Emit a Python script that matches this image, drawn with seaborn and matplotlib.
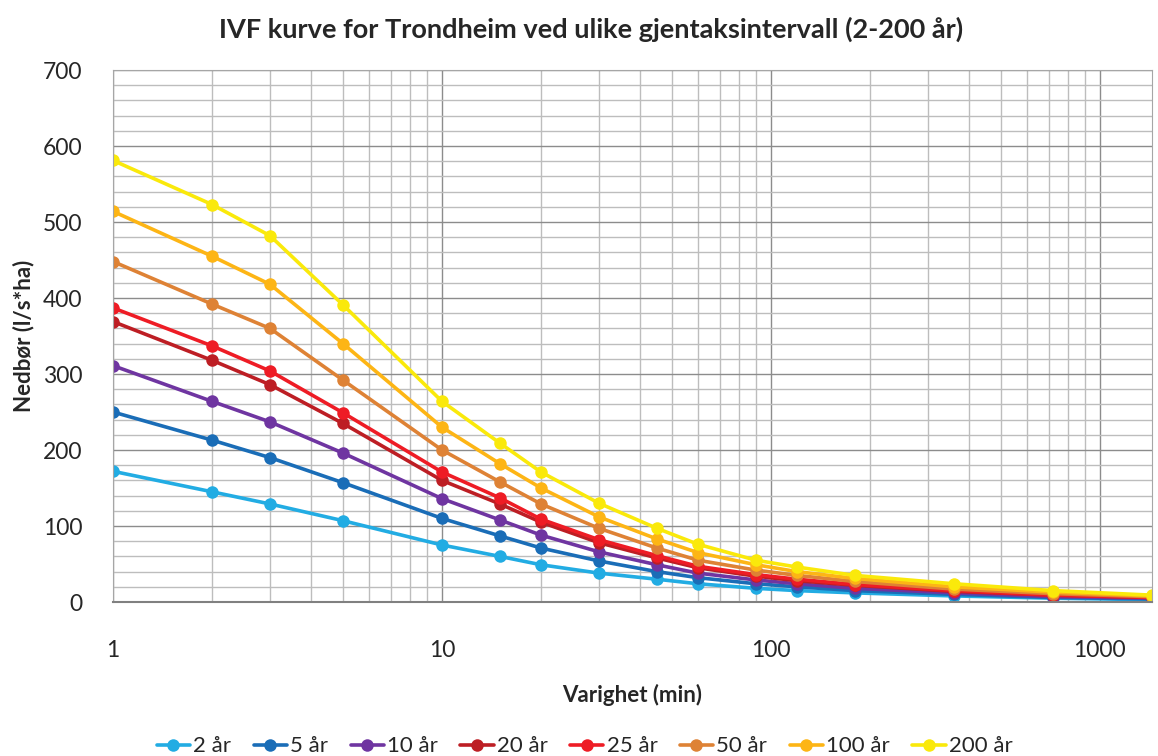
import numpy as np
import pandas as pd
import matplotlib
matplotlib.use("Agg")
import matplotlib.pyplot as plt
import matplotlib.ticker as mticker
import seaborn as sns

# varighet i minutter
durations = [1, 2, 3, 5, 10, 15, 20, 30, 45, 60, 90, 120, 180, 360, 720, 1440]

# nedbørintensitet (l/s*ha), lest av figuren
i_2 = [172, 145, 129, 107, 75, 60, 49, 38, 30, 24, 18, 15, 12, 8, 5, 3]
i_5 = [250, 213, 190, 157, 110, 87, 71, 54, 40, 32, 24, 20, 15, 10, 6, 4]
i_10 = [311, 264, 237, 196, 136, 108, 88, 66, 49, 38, 29, 24, 18, 12, 7, 5]
i_20 = [369, 318, 286, 235, 160, 129, 105, 78, 58, 45, 34, 28, 22, 14, 9, 6]
i_25 = [387, 337, 304, 249, 171, 137, 109, 82, 61, 47, 36, 30, 23, 15, 9, 6]
i_50 = [448, 392, 360, 292, 200, 158, 129, 97, 71, 55, 42, 35, 27, 17, 11, 7]
i_100 = [514, 455, 418, 340, 230, 182, 150, 112, 83, 65, 49, 40, 31, 20, 13, 8]
i_200 = [581, 523, 482, 391, 264, 209, 171, 130, 97, 76, 55, 46, 35, 24, 15, 9]

series_names = ["2 år", "5 år", "10 år", "20 år", "25 år", "50 år", "100 år", "200 år"]
series_vals = [i_2, i_5, i_10, i_20, i_25, i_50, i_100, i_200]
colors = ["#22ACE3", "#1A6DB7", "#6F35A1", "#BD1E24", "#EE1C25", "#DE8235", "#FDB515", "#FAE90B"]

df = pd.DataFrame(
    [(n, d, v) for n, vals in zip(series_names, series_vals) for d, v in zip(durations, vals)],
    columns=["serie", "varighet", "nedbor"],
)

sns.set_style("white")
plt.rcParams["font.family"] = ["Lato", "DejaVu Sans"]

fig = plt.figure(figsize=(11.58, 7.56), dpi=100)
ax = fig.add_axes([0.0976, 0.2037, 0.8972, 0.7037])

sns.lineplot(
    data=df, x="varighet", y="nedbor", hue="serie",
    hue_order=series_names, palette=dict(zip(series_names, colors)),
    marker="o", markersize=9, markeredgewidth=0, linewidth=2.6,
    ax=ax,
)

ax.set_xscale("log")
ax.set_xlim(1, 1440)
ax.set_ylim(0, 700)
ax.xaxis.set_major_locator(mticker.FixedLocator([1, 10, 100, 1000]))
ax.xaxis.set_major_formatter(mticker.FuncFormatter(lambda v, p: f"{v:g}"))
ax.xaxis.set_minor_locator(mticker.LogLocator(base=10, subs=np.arange(2, 10)))
ax.xaxis.set_minor_formatter(mticker.NullFormatter())
ax.yaxis.set_major_locator(mticker.MultipleLocator(100))
ax.yaxis.set_minor_locator(mticker.MultipleLocator(20))

ax.grid(which="major", color="#8c8c8c", linewidth=1.0)
ax.grid(which="minor", color="#bdbdbd", linewidth=1.0)
ax.set_axisbelow(True)
for s in ax.spines.values():
    s.set_color("#a6a6a6")
ax.spines["bottom"].set_color("#808080")
ax.spines["bottom"].set_linewidth(1.5)
ax.tick_params(which="both", length=0)
ax.tick_params(axis="x", pad=27, labelsize=16.5)
ax.tick_params(axis="y", pad=22, labelsize=16.5)

ax.set_xlabel("Varighet (min)", fontsize=16, fontweight="bold", labelpad=17)
ax.set_ylabel("Nedbør (l/s*ha)", fontsize=16, fontweight="bold", labelpad=6)
fig.suptitle("IVF kurve for Trondheim ved ulike gjentaksintervall (2-200 år)",
             fontsize=19.5, fontweight="bold", x=0.51, y=0.978)

sns.move_legend(ax, "upper center", bbox_to_anchor=(0.454, -0.215), ncol=8,
                frameon=False, title=None, fontsize=16, handlelength=1.5,
                handletextpad=0.15, columnspacing=1.0)

fig.savefig("out.png", dpi=100)
